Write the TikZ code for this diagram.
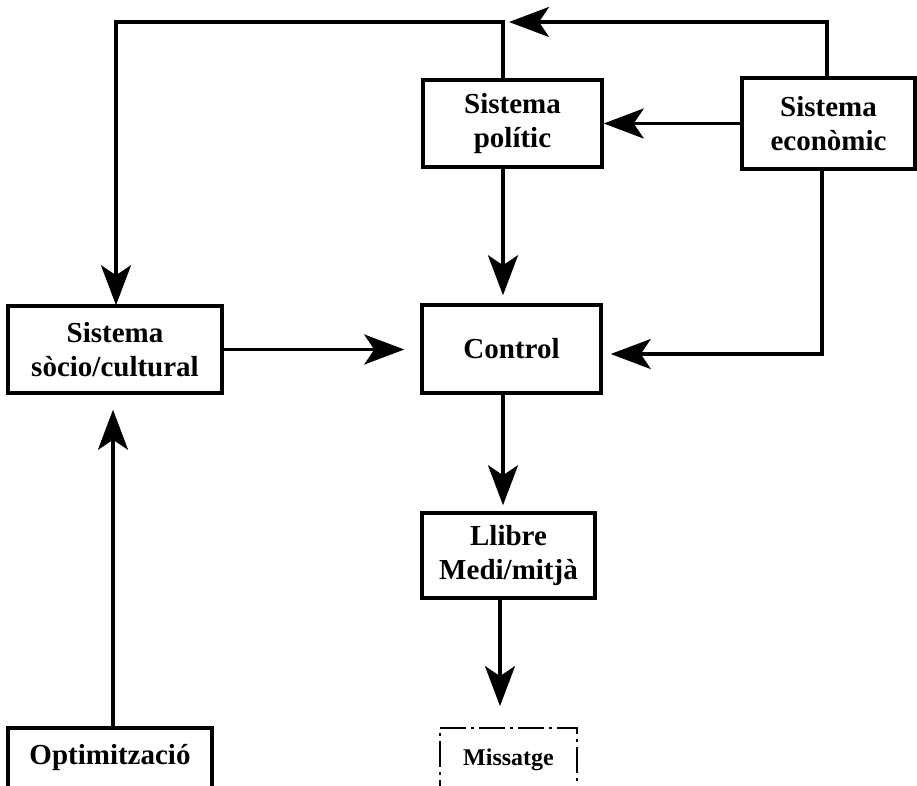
\documentclass[tikz,border=0pt]{standalone}
\usepackage{fontspec}
\setmainfont{Liberation Serif}
\usetikzlibrary{arrows.meta}
\begin{document}
\begin{tikzpicture}[x=1pt,y=-1pt,
  box/.style={draw, line width=3.5pt, align=center, inner sep=0pt,
    font=\bfseries\fontsize{29}{34}\selectfont},
  thinbox/.style={draw, line width=1.8pt, dash pattern=on 26pt off 5pt on 3pt off 5pt,
    align=center, inner sep=0pt, font=\bfseries\fontsize{24}{28}\selectfont},
  link/.style={line width=3.3pt, line join=miter},
  arr/.style={link, -{Stealth[length=40pt,width=30pt,inset=10pt]}}]
\useasboundingbox (0,0) rectangle (917,786);
\clip (0,0) rectangle (917,786);

% boxes
\node[box, minimum width=179pt, minimum height=87pt] (pol) at (512.5,123.5) {Sistema\\polític};
\node[box, minimum width=173pt, minimum height=91pt] (eco) at (828.5,123.5) {Sistema\\econòmic};
\node[box, minimum width=214pt, minimum height=87pt] (soc) at (115,349.5) {Sistema\\sòcio/cultural};
\node[box, minimum width=179pt, minimum height=88pt] (ctl) at (511.5,349) {Control};
\node[box, minimum width=173pt, minimum height=85pt] (lib) at (508.5,555.5) {Llibre\\Medi/mitjà};
\node[box, minimum width=204pt, minimum height=60pt] (opt) at (110,758) {Optimització};
\node[thinbox, minimum width=137pt, minimum height=64pt] (mis) at (508.5,760) {Missatge};

% routing points
\coordinate (tl) at (116,22);
\coordinate (tr) at (827,22);
\coordinate (tj) at (509,22);
\coordinate (xp) at (503,0);
\coordinate (xl) at (500,0);
\coordinate (xe) at (822,0);
\coordinate (ye) at (0,354);
\coordinate (xo) at (113,0);

% connectors
\draw[arr] (eco.north -| tr) -- (tr) -- (tj);
\draw[arr] (pol.north -| xp) -- (xp |- tl) -- (tl) -- ([yshift=-1pt]soc.north -| tl);
\draw[arr] (eco.west) -- (pol.east);
\draw[arr, shorten >=8pt] (pol.south -| xp) -- (ctl.north -| xp);
\draw[arr, shorten >=8pt] (eco.south -| xe) -- (xe |- ye) -- (ctl.east |- ye);
\draw[arr, shorten >=16pt] (soc.east) -- (ctl.west |- soc.east);
\draw[arr, shorten >=15pt] (opt.north -| xo) -- (soc.south -| xo);
\draw[arr, shorten >=6pt] (ctl.south -| xp) -- (lib.north -| xp);
\draw[arr, shorten >=21pt] (lib.south -| xl) -- (mis.north -| xl);
\end{tikzpicture}
\end{document}
